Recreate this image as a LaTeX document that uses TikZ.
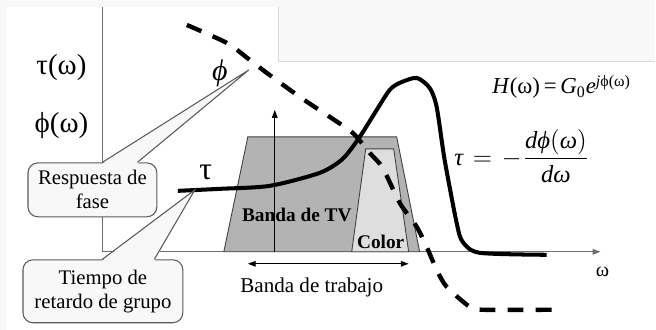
\documentclass[tikz,border=0pt]{standalone}
\usepackage{fontspec}
\setmainfont{Liberation Serif}
\usetikzlibrary{arrows.meta,calc}
\definecolor{pagegray}{HTML}{F8F8F8}
\definecolor{edgegray}{HTML}{DADADA}
\definecolor{axisgray}{HTML}{6E6E6E}
\definecolor{tvgray}{HTML}{B3B3B3}
\definecolor{colorgray}{HTML}{DEDEDE}
\definecolor{notedraw}{HTML}{5A5A5A}
\tikzset{
  curve/.style={line width=2.3pt,line join=round},
  phasecurve/.style={line width=2.5pt,dash pattern=on 9pt off 7pt},
  band/.style={draw=black!75,line width=.5pt},
  note/.style={draw=notedraw,fill=pagegray,rounded corners=.2cm,line width=.6pt,
    align=center,inner sep=0,font=\fontsize{11.8}{13.6}\selectfont},
  lbl/.style={inner sep=0,font=\fontsize{12}{14}\selectfont},
}
\begin{document}
\begin{tikzpicture}[x=.02cm,y=-.02cm,>={Triangle[length=4.5pt,width=3.2pt]}]
%page
\fill[pagegray](0,0)rectangle(656,330);
\fill[white](6,7)rectangle(656,330);
\fill[pagegray](279,0)rectangle(656,62);
\draw[edgegray,line width=.6pt](279,7)--(279,62)--(656,62);
%axes
\coordinate(o)at(102.5,252);
\coordinate(ytop)at(102.5,7);
\coordinate(xend)at(601,252);
\draw[axisgray,line width=.8pt](ytop)--(o);
\draw[axisgray,line width=.7pt,->](o)--(xend);
%bands
\draw[band,fill=tvgray](224,252)--(248,137)--(397,137)--(420,252)--cycle;
\draw[band,fill=colorgray](352,252)--(366,149)--(394,149)--(409,252)--cycle;
\coordinate(tvbase)at(275,252);
\coordinate(tvtop)at(275,110);
\draw[->,line width=.6pt](tvbase)--(tvtop);
\node[inner sep=0,font=\bfseries\fontsize{11}{13}\selectfont](tv)at(297,215){Banda de TV};
\node[inner sep=0,font=\bfseries\fontsize{11}{13}\selectfont](color)at(381,242){Color};
%curves
\draw[curve]plot[smooth,tension=.45]coordinates{(178,191)(220,189)(270,186)(320,173)(343,159)
  (360,137)(377,110)(390,90)(400,83)(417,78)(430,88)(437,107)(445,160)(457,223)(463,242)(480,253)(547,255)};
\draw[phasecurve]plot[smooth,tension=.45]coordinates{(187,25)(227,43)(250,60)(267,73)(300,97)
  (330,117)(353,133)(370,153)(383,168)(400,203)(417,227)(427,247)(437,270)(447,287)(470,307)(483,310)(553,310)};
%callouts
\node[note,minimum width=2.58cm,minimum height=1.08cm](fase)at(92.5,190){Respuesta de\\fase};
\coordinate(fasetip)at(249,70);
\fill[pagegray]($(fase.north west)+(75,1.5)$)--(fasetip)--($(fase.north west)+(110,1.5)$)--cycle;
\draw[notedraw,line width=.6pt]($(fase.north west)+(75,0)$)--(fasetip)--($(fase.north west)+(110,0)$);
\node[note,minimum width=3.2cm,minimum height=1.26cm](grupo)at(103,291.5){Tiempo de\\retardo de grupo};
\coordinate(grupotip)at(195,190);
\fill[pagegray]($(grupo.north west)+(80,1.5)$)--(grupotip)--($(grupo.north west)+(132,1.5)$)--cycle;
\draw[notedraw,line width=.6pt]($(grupo.north west)+(80,0)$)--(grupotip)--($(grupo.north west)+(132,0)$);
%labels
\node[lbl,font=\fontsize{16.5}{18}\selectfont](tauw)at(61.5,68){τ(ω)};
\node[lbl,font=\fontsize{16.5}{18}\selectfont](phiw)at(61.5,126){ϕ(ω)};
\node[lbl,font=\itshape\fontsize{17}{19}\selectfont](phi)at(220,73){ϕ};
\node[lbl,font=\fontsize{18}{20}\selectfont](tau)at(206,173){τ};
\node[lbl,font=\fontsize{13}{15}\selectfont](H)at(562,87){\textit{H}(ω)\,=\,\textit{G}\textsubscript{0}\textit{e}\textsuperscript{\textit{j}ϕ(ω)}};
\node[lbl,font=\fontsize{14}{16}\selectfont](deriv)at(522,156){$\textit{τ}\mskip2mu=\mskip2mu-\mskip1mu\displaystyle\frac{\textit{dϕ}(\textit{ω})}{\textit{dω}}$};
\node[lbl,font=\fontsize{11.5}{13}\selectfont](w)at(603,272){ω};
\coordinate(bandl)at(248,264);
\coordinate(bandr)at(409,264);
\draw[<->,line width=.7pt](bandl)--(bandr);
\node[lbl](trabajo)at(312,288){Banda de trabajo};
\end{tikzpicture}
\end{document}
